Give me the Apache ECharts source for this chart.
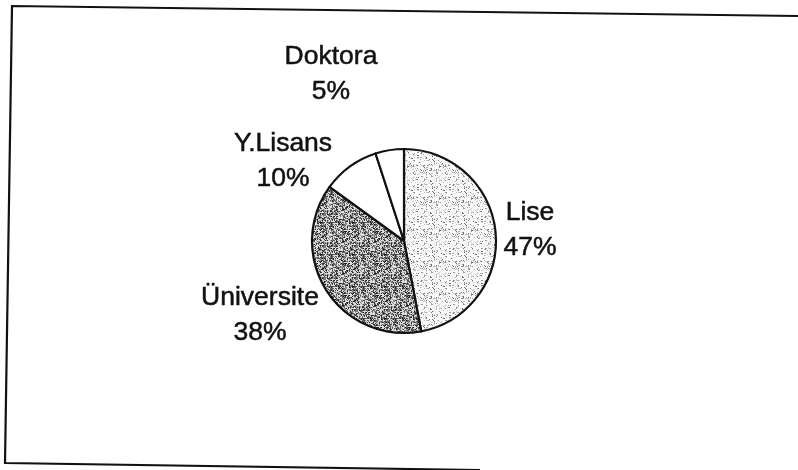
<!DOCTYPE html>
<html><head><meta charset="utf-8">
<script src="https://cdn.jsdelivr.net/npm/echarts@6/dist/echarts.min.js"></script>
<style>html,body{margin:0;padding:0;background:#fff}#c{width:798px;height:470px}</style>
</head><body><div id="c"></div>
<script>
// Data
const categories = ['Lise', 'Üniversite', 'Y.Lisans', 'Doktora'];
const percents = [47, 38, 10, 5];

// Label placement (styling)
const labelCenters = [[530, 230], [260, 315], [283, 161], [331, 74]];

// Deterministic texture tiles (styling only)
function makeTile(size, bg, density, palette, seed) {
  const cv = document.createElement('canvas');
  cv.width = size; cv.height = size;
  const ctx = cv.getContext('2d');
  ctx.fillStyle = bg; ctx.fillRect(0, 0, size, size);
  let s = seed;
  function h() { s = (s * 1103515245 + 12345) & 0x7fffffff; return s / 0x7fffffff; }
  for (let y = 0; y < size; y++) for (let x = 0; x < size; x++) {
    if (h() < density) {
      ctx.fillStyle = palette[Math.floor(h() * palette.length)];
      ctx.fillRect(x, y, 1, 1);
    }
  }
  return cv;
}
const liseTile = makeTile(32, '#f8f8f8', 0.2, ['#9a9a9a', '#bdbdbd', '#6e6e6e', '#d0d0d0'], 7);
const uniTile = makeTile(32, '#dcdcdc', 0.58, ['#222', '#555', '#777', '#999', '#444'], 13);
const fills = [
  { image: liseTile, repeat: 'repeat' },
  { image: uniTile, repeat: 'repeat' },
  '#ffffff',
  '#ffffff'
];

const chart = echarts.init(document.getElementById('c'), null, { renderer: 'canvas' });
chart.setOption({
  backgroundColor: '#ffffff',
  animation: false,
  graphic: [{
    type: 'polyline',
    shape: { points: [[798, 16], [12, 6], [5, 463], [480, 470]] },
    style: { stroke: '#111', lineWidth: 2.2, fill: null }
  }],
  series: [{
    type: 'pie',
    center: [404, 241],
    radius: 92,
    startAngle: 90,
    clockwise: true,
    avoidLabelOverlap: false,
    data: categories.map((c, i) => ({
      name: c, value: percents[i],
      itemStyle: { color: fills[i] }
    })),
    itemStyle: { borderColor: '#111', borderWidth: 2.2 },
    label: {
      show: true,
      position: 'outside',
      formatter: '{b}\n{c}%',
      fontFamily: 'Liberation Sans, Arial, sans-serif',
      fontSize: 26.5,
      lineHeight: 35,
      color: '#111',
      textBorderColor: '#111',
      textBorderWidth: 0.5,
      align: 'center'
    },
    labelLine: { show: false },
    labelLayout: function (p) {
      const c = labelCenters[p.dataIndex];
      return { x: c[0], y: c[1], align: 'center', verticalAlign: 'middle' };
    },
    emphasis: { disabled: true }
  }]
});
</script>
</body></html>
